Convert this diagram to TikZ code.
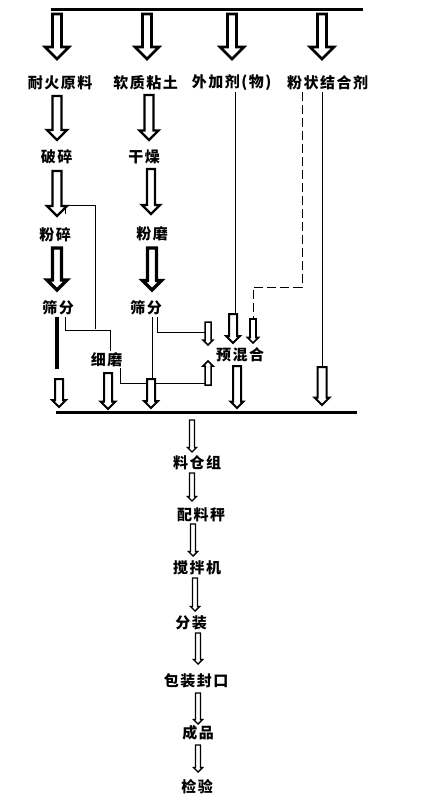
\documentclass[tikz,border=0pt]{standalone}
\usepackage{fontspec}
\newfontfamily\cjk[LetterSpace=10]{Noto Sans CJK SC}
\tikzset{
  lbl/.style={font=\cjk\bfseries\fontsize{15}{15}\selectfont, inner sep=0pt, anchor=center},
  thin/.style={line width=0.9pt},
  rule/.style={line width=3pt},
  dashline/.style={line width=0.9pt, dash pattern=on 9pt off 4pt},
}
% block (hollow) arrow: [outline width]{x}{tail y}{tip y}{half shaft}{half head}{head length}
\newcommand\blk[6][2.5pt]{%
  \pgfmathsetmacro\hb{#4<#3 ? #4+#6 : #4-#6}%
  \draw[line width=#1, line join=miter, miter limit=10, fill=white]
   ({#2-#5},#3) -- ({#2-#5},\hb) -- ({#2-#6},\hb) -- (#2,#4) -- ({#2+#6},\hb) -- ({#2+#5},\hb) -- ({#2+#5},#3) -- cycle;}
\begin{document}
\begin{tikzpicture}[x=1pt,y=-1pt]
\fill[white] (0,0) rectangle (433,804);
\useasboundingbox (0,0) rectangle (433,804);

% labels
\node[lbl] (nhyl) at (60,83) {耐火原料};
\node[lbl] (rzzt) at (145.5,83) {软质粘土};
\node[lbl] (wjj) at (231.5,83) {外加剂(物)};
\node[lbl] (fzjhj) at (327.5,83) {粉状结合剂};
\node[lbl] (ps) at (56.5,157) {破碎};
\node[lbl] (gz) at (144,157) {干燥};
\node[lbl] (fs) at (55,235) {粉碎};
\node[lbl] (fm) at (152,234) {粉磨};
\node[lbl] (sf1) at (58,308) {筛分};
\node[lbl] (sf2) at (146,308) {筛分};
\node[lbl] (xm) at (106.5,360) {细磨};
\node[lbl] (yhh) at (240,355) {预混合};
\node[lbl] (lcz) at (197,463) {料仓组};
\node[lbl] (plc) at (201,515) {配料秤};
\node[lbl] (jbj) at (197,568) {搅拌机};
\node[lbl] (fz) at (191,623) {分装};
\node[lbl] (bzfk) at (196,681) {包装封口};
\node[lbl] (cp) at (198,733) {成品};
\node[lbl] (jy) at (197,787) {检验};

% junction coordinates
\coordinate (topL) at (51,9);
\coordinate (topR) at (363,9);
\coordinate (botL) at (56,412);
\coordinate (botR) at (357,412);

% horizontal rules
\draw[rule] (topL) -- (topR);
\draw[rule] (botL) -- (botR);

% thin connectors
\draw[thin] (235,92) -- (235,314);
\draw[thin] (322,92) -- (322,367);
\draw[dashline] (302,92) -- (302,287) -- (253,287) -- (253,319);
\draw[thin] (65,214) -- (65,205) -- (95,205) -- (95,329);
\draw[thin] (65,317) -- (65,330) -- (110,330) -- (110,351);
\draw[thin] (120,368) -- (120,383) -- (206,383);
\draw[thin] (152,317) -- (152,379);
\draw[thin] (157,317) -- (157,332) -- (206,332);
\draw[line width=3.5pt] (57,317) -- (57,369);

% top row arrows
\blk[2.6pt]{57}{14}{59}{4.5}{12}{21}
\blk[2.6pt]{147}{14}{59}{4.5}{12}{21}
\blk[2.6pt]{232}{14}{59}{4.5}{12}{21}
\blk[2.6pt]{322}{14}{59}{4.5}{12}{21}

% column 1
\blk[2.4pt]{57}{96}{140}{4.5}{10}{22}
\blk[2.4pt]{57}{171}{216}{4.5}{10}{22}
\blk[3.4pt]{57}{248}{290}{4.5}{10}{22}
\blk[2pt]{59}{379}{407}{4}{7}{15}

% column 2
\blk[2.4pt]{149}{95}{140}{4.5}{9.5}{22}
\blk[2.4pt]{151}{169}{214}{4}{9}{21}
\blk[3.4pt]{152}{248}{290}{4.5}{9.5}{22}
\blk[2pt]{151}{379}{408}{4}{7}{15}

% fine grinding
\blk[2pt]{108}{373}{409}{4}{7.5}{20}

% additive / binder
\blk[2pt]{233}{314}{343}{4}{7}{15}
\blk[1.6pt]{253}{319}{343}{3}{5.5}{13}
\blk[2pt]{322}{367}{405}{4.5}{7.5}{18}

% into premix
\blk[1.5pt]{208}{322}{345}{3}{5}{12}
\blk[1.5pt]{208}{385}{361}{3}{5}{12}

% premix out
\blk[2pt]{237}{366}{408}{4}{6.5}{21}

% lower chain
\blk[1.4pt]{192}{420}{452}{2.5}{4.5}{14}
\blk[1.4pt]{192}{473}{501}{2.5}{4.5}{14}
\blk[1.4pt]{193}{524}{556}{2.5}{4.5}{14}
\blk[1.4pt]{195}{578}{611}{2.5}{4.5}{14}
\blk[1.4pt]{198}{633}{664}{2.5}{4.5}{14}
\blk[1.4pt]{198}{693}{724}{2.5}{4.5}{14}
\blk[1.4pt]{198}{745}{772}{2.5}{4.5}{14}
\end{tikzpicture}
\end{document}
